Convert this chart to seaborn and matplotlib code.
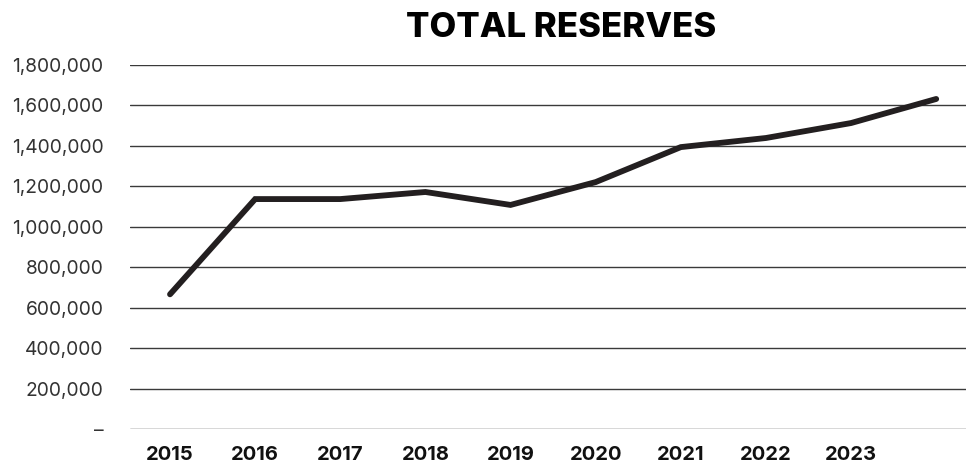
import matplotlib
matplotlib.use("Agg")
import matplotlib.pyplot as plt
import matplotlib.ticker as mticker
import seaborn as sns
import pandas as pd

years = [2015, 2016, 2017, 2018, 2019, 2020, 2021, 2022, 2023, 2024]
year_labels = ["2015", "2016", "2017", "2018", "2019", "2020", "2021", "2022", "2023", ""]
total_reserves = [666000, 1137000, 1137000, 1172000, 1108000, 1221000,
                  1394000, 1439000, 1513000, 1632000]
y_ticks = [0, 200000, 400000, 600000, 800000, 1000000, 1200000, 1400000, 1600000, 1800000]

sns.set_theme(style="white")
plt.rcParams["font.family"] = ["Inter", "DejaVu Sans"]

df = pd.DataFrame({"pos": range(len(years)), "reserves": total_reserves})

fig = plt.figure(figsize=(9.66, 4.65), dpi=100)
ax = fig.add_axes([130 / 966, 1 - 429 / 465, 836 / 966, 364 / 465])

sns.lineplot(data=df, x="pos", y="reserves", ax=ax, color="#231f20",
             linewidth=4.2, solid_capstyle="round", solid_joinstyle="miter",
             zorder=3)

ax.set_xlim(-0.47, 9.35)
ax.set_ylim(0, 1800000)
ax.set_yticks(y_ticks)
ax.yaxis.set_major_formatter(mticker.FuncFormatter(
    lambda v, _: "–" if v == 0 else f"{int(v):,}"))
ax.set_xticks(range(len(years)))
ax.set_xticklabels(year_labels, fontweight="bold", fontsize=14.5, color="#111111")
ax.tick_params(axis="y", labelsize=13.8, labelcolor="#333333", length=0, pad=19)
ax.tick_params(axis="x", length=0, pad=12)

ax.grid(axis="y", color="#3a3a3a", linewidth=1.0)
ax.set_axisbelow(True)
for s in ax.spines.values():
    s.set_visible(False)
ax.set_xlabel("")
ax.set_ylabel("")

fig.text(561 / 966, 1 - 28 / 465, "TOTAL RESERVES", ha="center", va="center",
         fontsize=25, fontweight="heavy", color="#000000")

fig.savefig("out.png", dpi=100)
